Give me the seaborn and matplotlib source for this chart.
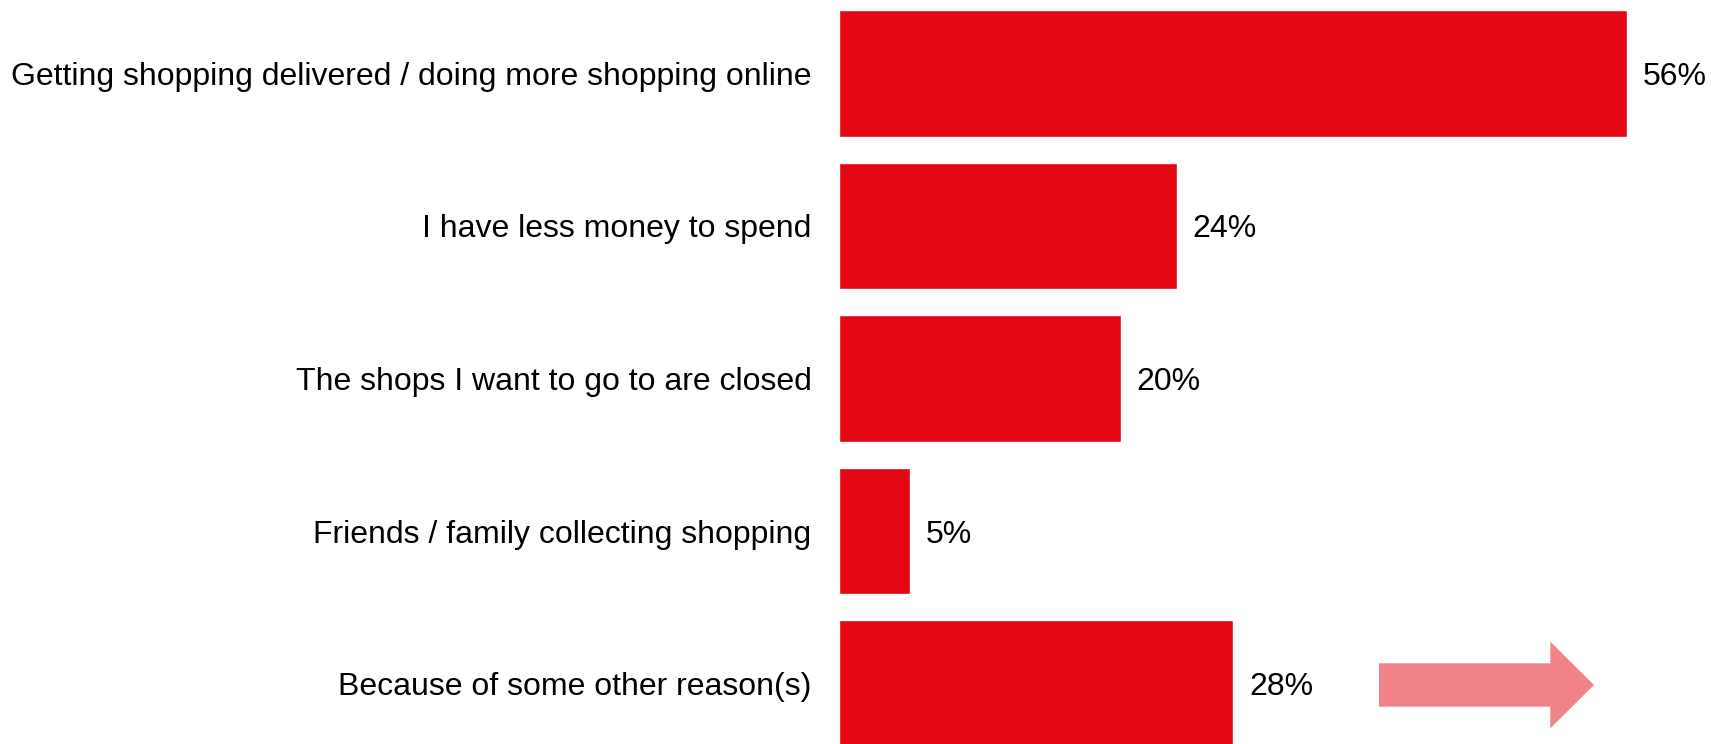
import matplotlib
matplotlib.use("Agg")
import matplotlib.pyplot as plt
from matplotlib.patches import Polygon
import seaborn as sns
import pandas as pd

# Reasons for shopping less in store, share of respondents (%)
reasons = [
    "Getting shopping delivered / doing more shopping online",
    "I have less money to spend",
    "The shops I want to go to are closed",
    "Friends / family collecting shopping",
    "Because of some other reason(s)",
]
shares = [56, 24, 20, 5, 28]

BAR_RED = "#E30613"
ARROW_PINK = "#F0838A"

sns.set_theme(style="white")
plt.rcParams["font.family"] = ["Liberation Sans", "DejaVu Sans"]

W, H, DPI = 1711, 744, 100
fig = plt.figure(figsize=(W / DPI, H / DPI), dpi=DPI)
ax = fig.add_axes([839.3 / W, 0.0, 1 - 839.3 / W, 1.0])

df = pd.DataFrame({"reason": reasons, "share": shares})
sns.barplot(data=df, x="share", y="reason", orient="h", color=BAR_RED,
            saturation=1, width=0.83, ax=ax)

ax.set_xlim(0, (W - 839.3) / 14.06)
ax.set_ylim(4.3948, -0.4807)

for c in ax.containers:
    anns = ax.bar_label(c, labels=[f"{v:g}%" for v in shares], padding=11.5,
                        fontsize=23, color="black")
    for t in anns:
        t.set_verticalalignment("center_baseline")

ax.set_xlabel("")
ax.set_ylabel("")
ax.set_xticks([])
ax.tick_params(axis="y", length=0, pad=20, labelsize=23, labelcolor="black")
for s in ax.spines.values():
    s.set_visible(False)

# Right-pointing block arrow beside the last bar
pts_px = [(1379, 663.3), (1550.3, 663.3), (1550.3, 641.7), (1594, 685),
          (1550.3, 728.3), (1550.3, 706.7), (1379, 706.7)]
pts = [(x / W, 1 - y / H) for x, y in pts_px]
fig.patches.append(Polygon(pts, closed=True, transform=fig.transFigure,
                           facecolor=ARROW_PINK, edgecolor="none"))

fig.savefig("out.png", dpi=DPI, facecolor="white")
